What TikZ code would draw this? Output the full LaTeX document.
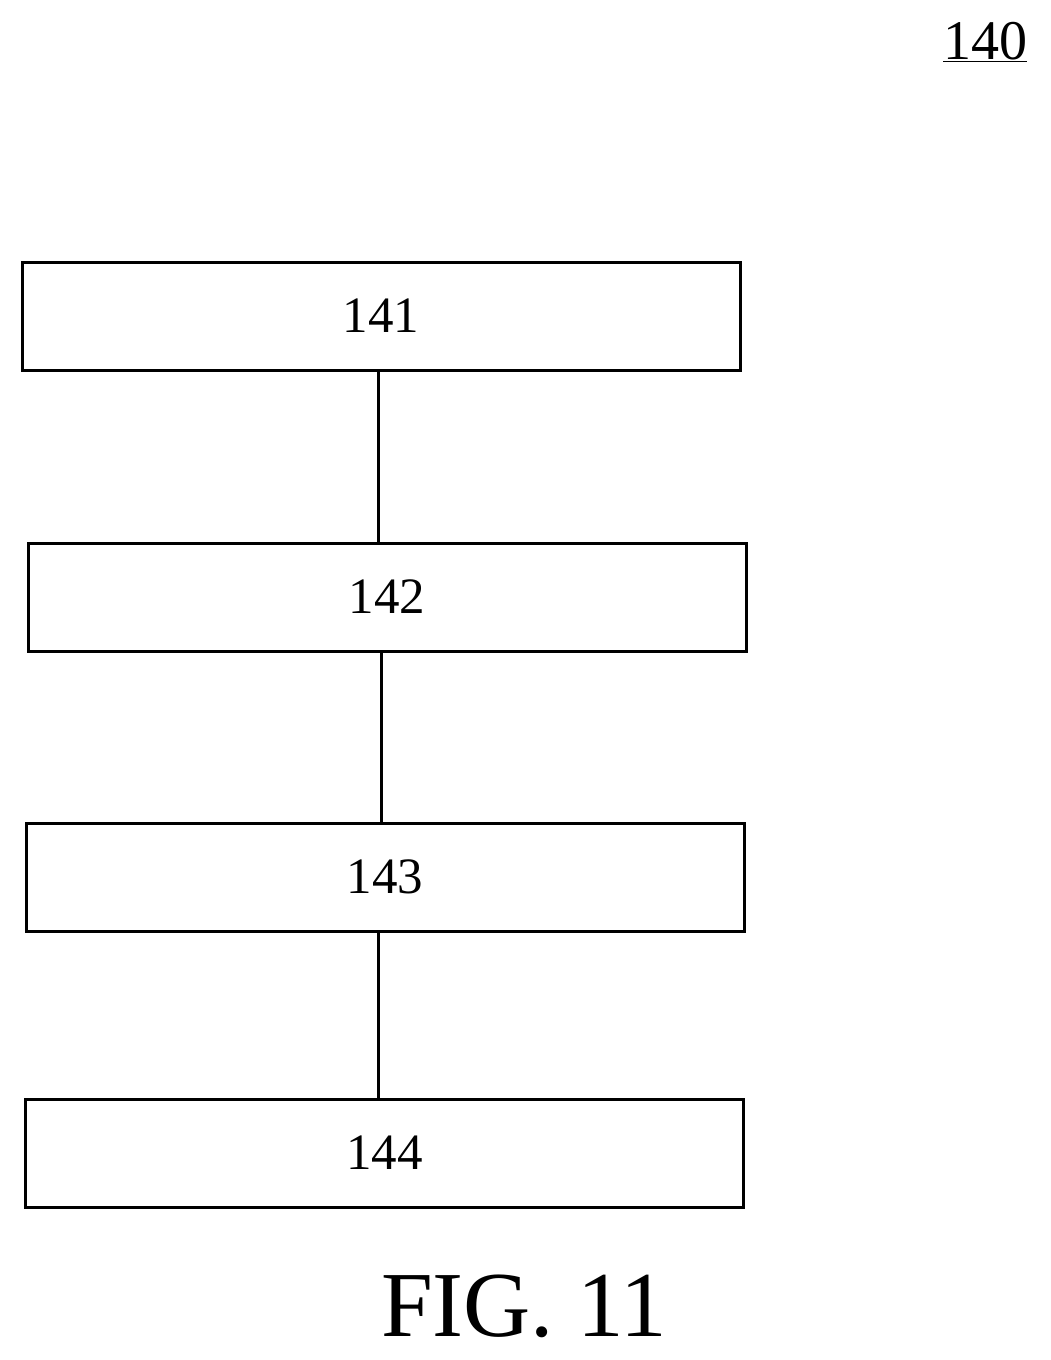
\documentclass[tikz,border=0pt]{standalone}
\usepackage{fontspec}
\setmainfont{Liberation Serif}
\begin{document}
\begin{tikzpicture}[x=1pt,y=-1pt,
  blk/.style={draw,line width=3pt,minimum width=718pt,minimum height=108pt,inner sep=0pt,font=\fontsize{51}{55}\selectfont},
  conn/.style={line width=3pt}]
\useasboundingbox (0,0) rectangle (1050,1360);
\node[blk] (b141) at (381,316) {141};
\node[blk] (b142) at (387,597) {142};
\node[blk] (b143) at (385,877) {143};
\node[blk] (b144) at (384.5,1153) {144};
\draw[conn] (b141.south -| 378,0) -- (b142.north -| 378,0);
\draw[conn] (b142.south -| 381,0) -- (b143.north -| 381,0);
\draw[conn] (b143.south -| 378,0) -- (b144.north -| 378,0);
\node[font=\fontsize{56}{60}\selectfont,inner sep=0pt] (lbl) at (985,42) {\underline{140}};
\node[font=\fontsize{93}{100}\selectfont,inner sep=0pt] (fig) at (524,1306) {FIG. 11};
\end{tikzpicture}
\end{document}
